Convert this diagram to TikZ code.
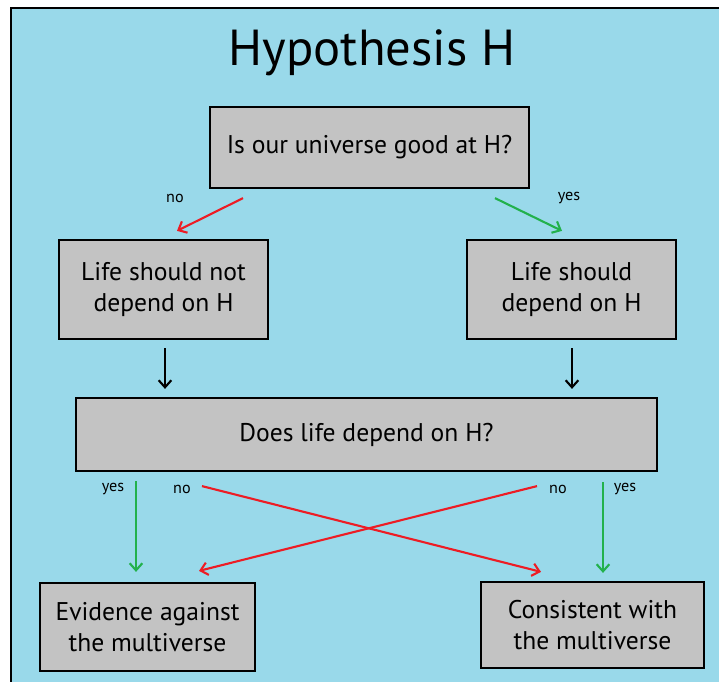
\documentclass[tikz,border=0pt]{standalone}
\usepackage{fontspec}
\setmainfont{PT Sans}
\usepackage{xcolor}
\usetikzlibrary{arrows.meta,positioning,calc}

\definecolor{skyblue}{RGB}{153,217,234}
\definecolor{boxgray}{RGB}{195,195,195}
\definecolor{nored}{RGB}{237,28,36}
\definecolor{yesgreen}{RGB}{34,177,76}

\begin{document}
\begin{tikzpicture}[
  x=0.025cm, y=-0.025cm,
  box/.style={draw, fill=boxgray, line width=1.6pt, align=center,
    font=\fontsize{18.2}{22}\selectfont, inner sep=0pt},
  lbl/.style={font=\fontsize{11.5}{13}\selectfont, inner sep=0pt},
  arr/.style={-{Straight Barb[length=5pt,width=9pt]}, line width=1.5pt},
  noarr/.style={arr, nored},
  yesarr/.style={arr, yesgreen}
]
  \useasboundingbox (0,0) rectangle (719,682);
  \clip (0,0) rectangle (719,682);
  \fill[white] (0,0) rectangle (719,682);
  \draw[fill=skyblue, line width=1.6pt] (11,8) rectangle (740,700);

  \node[font=\fontsize{36}{40}\selectfont, inner sep=0pt] (title) at (372,53) {Hypothesis H};

  \node[box, minimum width=319*0.025cm, minimum height=81*0.025cm] (good) at (369.5,147.5) {Is our universe good at H?};
  \node[box, minimum width=209*0.025cm, minimum height=99*0.025cm] (notdep) at (163.5,289.5) {Life should not\\depend on H};
  \node[box, minimum width=209*0.025cm, minimum height=99*0.025cm] (dep) at (571.5,289.5) {Life should\\depend on H};
  \node[box, minimum width=581*0.025cm, minimum height=73*0.025cm] (does) at (366.5,434.5) {Does life depend on H?};
  \node[box, minimum width=215*0.025cm, minimum height=88*0.025cm] (against) at (147.5,627) {Evidence against\\the multiverse};
  \node[box, minimum width=223*0.025cm, minimum height=86*0.025cm] (consistent) at (592.5,625) {Consistent with\\the multiverse};

  % labels
  \node[lbl] (no1) at (175,198) {no};
  \node[lbl] (yes1) at (569,198) {yes};
  \node[lbl] (yes2) at (113,489) {yes};
  \node[lbl] (no2) at (182,489) {no};
  \node[lbl] (no3) at (558,489) {no};
  \node[lbl] (yes3) at (625,489) {yes};

  \draw[noarr] ($(good.south)+(-126.5,9)$) -- ($(notdep.north)+(13.5,-8)$);
  \draw[yesarr] ($(good.south)+(125.5,9)$) -- ($(dep.north)+(-9.5,-8)$);
  \draw[arr] ($(notdep.south)+(1.5,8)$) -- ($(does.north -| notdep.south)+(1.5,-8)$);
  \draw[arr] ($(dep.south)+(0.5,8)$) -- ($(does.north -| dep.south)+(0.5,-8)$);
  \draw[yesarr] ($(does.south -| against.north)+(-11.5,9)$) -- ($(against.north)+(-11.5,-10)$);
  \draw[noarr] ($(does.south)+(-164.5,14)$) -- ($(consistent.north)+(-51.5,-9)$);
  \draw[noarr] ($(does.south)+(170.5,14)$) -- ($(against.north)+(51.5,-11)$);
  \draw[yesarr] ($(does.south -| consistent.north)+(10.5,10)$) -- ($(consistent.north)+(10.5,-8)$);
\end{tikzpicture}
\end{document}
